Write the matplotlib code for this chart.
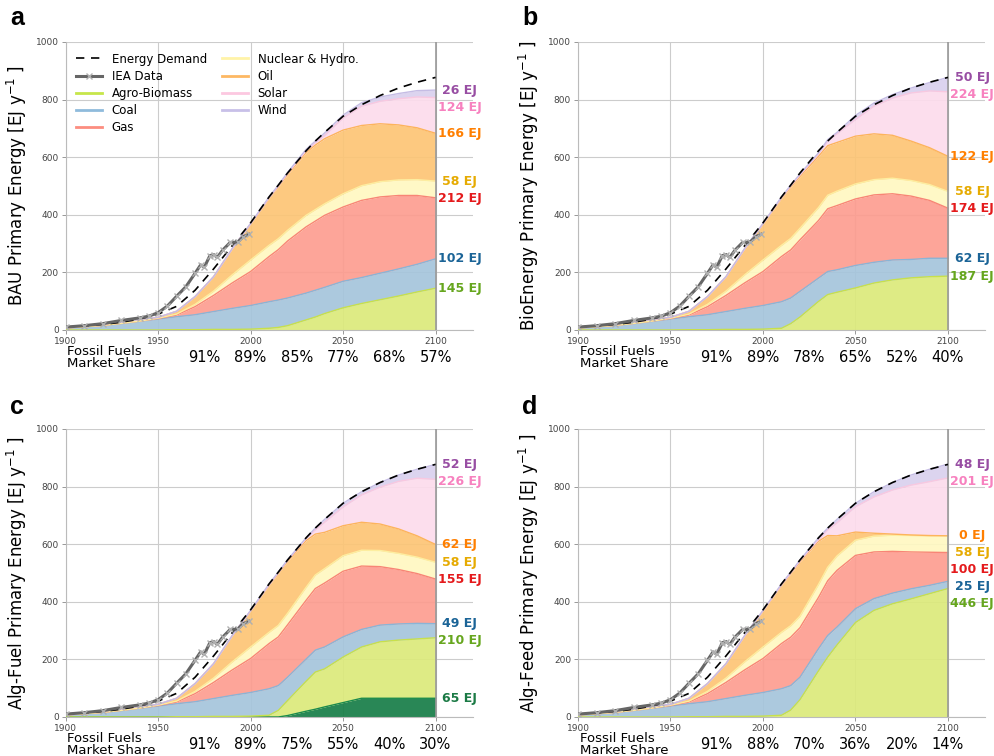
import matplotlib.pyplot as plt
import numpy as np
from matplotlib.lines import Line2D

plt.rcParams['font.family'] = ['DejaVu Sans']

# time axis (historic part 1900-2010, scenarios after)
years = [1900, 1910, 1920, 1930, 1940, 1950, 1960, 1970, 1980, 1990, 2000, 2010,
         2015, 2020, 2030, 2035, 2040, 2050, 2060, 2070, 2080, 2090, 2100]

demand = [10, 14, 19, 27, 38, 55, 82, 138, 212, 292, 372, 462,
          503, 545, 622, 656, 686, 742, 782, 814, 840, 860, 877]

iea_years = [1900, 1910, 1920, 1930, 1940, 1945, 1950, 1955, 1960, 1965, 1970, 1973,
             1975, 1978, 1980, 1982, 1985, 1989, 1993, 1996, 1999]
iea_vals = [10, 15, 22, 33, 42, 48, 60, 83, 117, 150, 197, 226,
            218, 258, 262, 252, 278, 304, 305, 324, 332]

# historic layers, EJ per year
hist_agro = [0, 0, 0, 0, 0, 0, 1, 1, 2, 2, 3, 6]
hist_coal = [7, 11, 16, 22, 30, 38, 45, 52, 62, 73, 82, 92]
hist_gas = [0, 0, 0, 1, 1, 2, 6, 28, 56, 88, 118, 157]
hist_nuc = [0, 0, 0, 0, 0, 1, 3, 8, 15, 28, 40, 39]
hist_oil = [2, 3, 4, 5, 6, 3, 10, 27, 50, 90, 125, 163]
hist_solar = [0, 0, 0, 0, 0, 0, 0, 0, 0, 0, 1, 2]
hist_wind = [0, 0, 0, 0, 0, 0, 0, 0, 0, 1, 1, 3]
hist_algae = [0, 0, 0, 0, 0, 0, 0, 0, 0, 0, 0, 0]

# BAU
bau_agro = hist_agro + [9, 15, 35, 45, 57, 77, 92, 105, 118, 132, 145]
bau_coal = hist_coal + [95, 96, 93, 93, 91, 92, 90, 92, 94, 96, 102]
bau_gas = hist_gas + [175, 198, 230, 240, 250, 258, 268, 265, 255, 239, 212]
bau_nuc = hist_nuc + [38, 37, 40, 40, 40, 46, 51, 53, 54, 55, 58]
bau_oil = hist_oil + [180, 193, 218, 224, 226, 221, 209, 201, 191, 180, 166]
bau_solar = hist_solar + [3, 4, 6, 8, 11, 42, 67, 78, 91, 107, 124]
bau_wind = hist_wind + [3, 4, 5, 6, 9, 10, 12, 15, 18, 22, 26]
bau_share = [91, 89, 85, 77, 68, 57]

# BioEnergy
bio_agro = hist_agro + [22, 45, 99, 123, 131, 146, 163, 174, 181, 185, 187]
bio_coal = hist_coal + [89, 89, 81, 80, 78, 78, 72, 69, 64, 64, 62]
bio_gas = hist_gas + [167, 179, 200, 218, 223, 231, 234, 230, 220, 201, 174]
bio_nuc = hist_nuc + [40, 40, 45, 47, 50, 52, 53, 54, 54, 55, 58]
bio_oil = hist_oil + [178, 180, 178, 172, 169, 166, 159, 149, 137, 128, 122]
bio_solar = hist_solar + [4, 5, 8, 16, 30, 58, 96, 129, 167, 197, 224]
bio_wind = hist_wind + [3, 4, 4, 5, 5, 14, 11, 12, 17, 29, 50]
bio_share = [91, 89, 78, 65, 52, 40]

# Alg-Fuel
fuel_algae = hist_algae + [0, 5, 20, 27, 35, 50, 65, 65, 65, 65, 65]
fuel_agro = hist_agro + [23, 52, 104, 129, 132, 158, 178, 196, 202, 206, 210]
fuel_coal = hist_coal + [86, 81, 77, 76, 76, 70, 61, 58, 56, 54, 49]
fuel_gas = hist_gas + [169, 182, 204, 214, 222, 228, 220, 203, 189, 173, 155]
fuel_nuc = hist_nuc + [40, 40, 45, 47, 50, 54, 55, 56, 56, 57, 58]
fuel_oil = hist_oil + [180, 180, 162, 142, 126, 104, 97, 92, 85, 74, 62]
fuel_solar = hist_solar + [3, 4, 7, 15, 35, 65, 95, 128, 165, 200, 226]
fuel_wind = hist_wind + [2, 2, 3, 6, 10, 13, 11, 16, 22, 31, 52]
fuel_share = [91, 89, 75, 55, 40, 30]

# Alg-Feed
feed_agro = hist_agro + [24, 60, 160, 208, 250, 328, 370, 393, 410, 428, 446]
feed_coal = hist_coal + [85, 78, 77, 75, 62, 48, 41, 37, 35, 29, 25]
feed_gas = hist_gas + [168, 172, 178, 190, 197, 185, 162, 145, 128, 115, 100]
feed_nuc = hist_nuc + [40, 40, 45, 47, 50, 53, 55, 56, 57, 57, 58]
feed_oil = hist_oil + [180, 188, 150, 110, 70, 28, 10, 4, 2, 1, 0]
feed_solar = hist_solar + [3, 4, 5, 20, 45, 88, 126, 153, 173, 187, 201]
feed_wind = hist_wind + [3, 3, 7, 6, 12, 12, 18, 26, 35, 43, 48]
feed_share = [91, 88, 70, 36, 20, 14]

share_years = [1975, 2000, 2025, 2050, 2075, 2100]

names = {'agro': 'Agro-Biomass', 'coal': 'Coal', 'gas': 'Gas', 'nuc': 'Nuclear & Hydro.',
         'oil': 'Oil', 'solar': 'Solar', 'wind': 'Wind'}
fill = {'algae': '#177d47', 'agro': '#dcea7b', 'coal': '#a5c5dc', 'gas': '#fd9d90',
        'nuc': '#fff8c2', 'oil': '#fdc575', 'solar': '#fcdcec', 'wind': '#d9d1ee'}
edge = {'algae': '#1a8a4c', 'agro': '#c8e04a', 'coal': '#8ab4d6', 'gas': '#f88576',
        'nuc': '#fdeea0', 'oil': '#fdb45c', 'solar': '#f9c8e0', 'wind': '#c5bce4'}
legcol = {'agro': '#c6e64a', 'coal': '#8fbbdc', 'gas': '#fc8d80', 'nuc': '#fff3a8',
          'oil': '#fdb863', 'solar': '#fcc8e0', 'wind': '#c8c0e8'}
labcol = {'algae': '#1b7a45', 'agro': '#66a61e', 'coal': '#1b6497', 'gas': '#e41a1c',
          'nuc': '#e6ab02', 'oil': '#ff7f00', 'solar': '#f781bf', 'wind': '#984ea3'}


def draw_panel(ax, layers, share, ylabel):
    ax.set_xlim(1900, 2120)
    ax.set_ylim(0, 1000)
    ax.set_xticks([1900, 1950, 2000, 2050, 2100])
    ax.set_yticks([0, 200, 400, 600, 800, 1000])
    ax.grid(True, color='#cccccc', lw=0.8, zorder=0)
    ax.set_axisbelow(True)
    for s in ['top', 'right']:
        ax.spines[s].set_visible(False)
    for s in ['left', 'bottom']:
        ax.spines[s].set_color('#bbbbbb')
    ax.tick_params(labelsize=6.5, labelcolor='#444444', length=3, width=0.6,
                   color='#888888', pad=2)

    base = np.zeros(len(years))
    tops = []
    for key, vals in layers:
        top = base + np.array(vals)
        ax.fill_between(years, base, top, color=fill[key], alpha=0.92, lw=0, zorder=2)
        ax.plot(years, top, color=edge[key], lw=1, zorder=3)
        tops.append(top[-1])
        base = top

    ax.axvline(2100, color='#999999', lw=1.2, zorder=4)
    ax.plot(years, demand, color='k', lw=1.2, ls='--', dashes=(5, 4), zorder=5)
    ax.plot(iea_years, iea_vals, color='#666666', lw=2.2, marker='x', ms=5,
            mec='#b0b0b0', mew=1, zorder=6)

    # value labels at 2100, pushed down so they do not overlap
    y_prev = None
    for i in reversed(range(len(layers))):
        key, vals = layers[i]
        y = tops[i]
        if y_prev is not None:
            y = min(y, y_prev - 59)
        ax.text(2113, y, '%d EJ' % vals[-1], color=labcol[key], fontweight='bold',
                fontsize=9, ha='center', va='center', clip_on=False, zorder=7)
        y_prev = y

    ax.set_ylabel(ylabel, fontsize=12, labelpad=5)

    trans = ax.get_xaxis_transform()
    ax.text(1901, -0.095, 'Fossil Fuels\nMarket Share', transform=trans, ha='left',
            va='center', fontsize=9.5, linespacing=0.95)
    for yr, s in zip(share_years, share):
        ax.text(yr, -0.095, '%d%%' % s, transform=trans, ha='center', va='center',
                fontsize=10.5)


fig = plt.figure(figsize=(9.94, 7.56), dpi=100)

w, h = 0.4094, 0.381
ax_a = fig.add_axes([0.066, 0.5635, w, h])
ax_b = fig.add_axes([0.5815, 0.5635, w, h])
ax_c = fig.add_axes([0.066, 0.0516, w, h])
ax_d = fig.add_axes([0.5815, 0.0516, w, h])

draw_panel(ax_a, [('agro', bau_agro), ('coal', bau_coal), ('gas', bau_gas), ('nuc', bau_nuc),
                  ('oil', bau_oil), ('solar', bau_solar), ('wind', bau_wind)],
           bau_share, 'BAU Primary Energy [EJ y$^{-1}$ ]')
draw_panel(ax_b, [('agro', bio_agro), ('coal', bio_coal), ('gas', bio_gas), ('nuc', bio_nuc),
                  ('oil', bio_oil), ('solar', bio_solar), ('wind', bio_wind)],
           bio_share, 'BioEnergy Primary Energy [EJ y$^{-1}$ ]')
draw_panel(ax_c, [('algae', fuel_algae), ('agro', fuel_agro), ('coal', fuel_coal),
                  ('gas', fuel_gas), ('nuc', fuel_nuc), ('oil', fuel_oil),
                  ('solar', fuel_solar), ('wind', fuel_wind)],
           fuel_share, 'Alg-Fuel Primary Energy [EJ y$^{-1}$ ]')
draw_panel(ax_d, [('agro', feed_agro), ('coal', feed_coal), ('gas', feed_gas), ('nuc', feed_nuc),
                  ('oil', feed_oil), ('solar', feed_solar), ('wind', feed_wind)],
           feed_share, 'Alg-Feed Primary Energy [EJ y$^{-1}$ ]')

# legend only on first panel
handles = [Line2D([], [], color='k', ls='--', lw=1.2, dashes=(5, 4)),
           Line2D([], [], color='#666666', lw=2.2, marker='x', ms=5, mec='#b0b0b0')]
labels = ['Energy Demand', 'IEA Data']
for key in ['agro', 'coal', 'gas', 'nuc', 'oil', 'solar', 'wind']:
    handles.append(Line2D([], [], color=legcol[key], lw=2))
    labels.append(names[key])
ax_a.legend(handles, labels, ncol=2, loc='upper left', frameon=False, fontsize=8.5,
            columnspacing=1.3, labelspacing=0.35, handlelength=2.2,
            bbox_to_anchor=(0.0, 1.0))

for x, y, letter in [(0.010, 0.992, 'a'), (0.525, 0.992, 'b'),
                     (0.010, 0.478, 'c'), (0.525, 0.478, 'd')]:
    fig.text(x, y, letter, fontsize=18, fontweight='bold', va='top',
             family=['Liberation Sans', 'DejaVu Sans'])

fig.savefig('out.png', dpi=100)
